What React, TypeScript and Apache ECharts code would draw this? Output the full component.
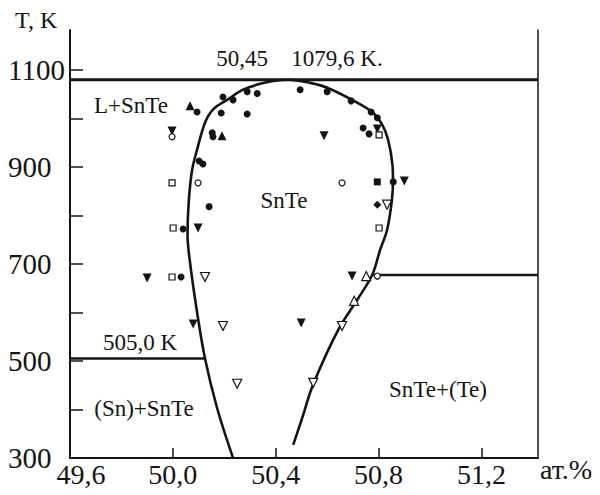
import React, { useEffect, useRef } from 'react';
import * as echarts from 'echarts';

// Axis extents (composition in at.% Te, temperature in K)
const X_MIN = 49.6;
const X_MAX = 51.42;
const T_MIN = 300;
const T_MAX = 1182;

const xTickValues = [50.0, 50.4, 50.8, 51.2];
const xLabelValues = [49.6, 50.0, 50.4, 50.8, 51.2];
const tTickValues = [300, 400, 500, 600, 700, 800, 900, 1000, 1100];
const tLabelValues = [300, 500, 700, 900, 1100];

// Invariant temperatures
const meltingX = 50.45;
const meltingT = 1079.6;
const snEutecticT = 505.0;
const snEutecticX = 50.125;
const teEutecticT = 677;
const teEutecticX = 50.78;

// SnTe homogeneity boundary: Sn-rich side (bottom to top), then Te-rich side (top to bottom)
const boundarySnSide: [number, number][] = [
  [50.234, 300], [50.172, 403], [50.125, 505], [50.094, 601], [50.067, 702],
  [50.057, 760], [50.062, 830], [50.075, 894], [50.094, 935], [50.125, 991],
  [50.156, 1018], [50.211, 1038], [50.273, 1059], [50.339, 1071], [50.39, 1077],
];
const boundaryTeSide: [number, number][] = [
  [50.534, 1073], [50.6, 1063], [50.697, 1038], [50.775, 1013], [50.814, 987],
  [50.837, 956], [50.854, 904], [50.856, 873], [50.852, 832], [50.833, 770],
  [50.806, 729], [50.775, 677], [50.717, 626], [50.643, 564], [50.545, 451],
  [50.507, 389], [50.468, 327],
];

// Experimental points
const filledCircle: [number, number][] = [
  [50.094, 1013], [50.195, 1044], [50.234, 1038], [50.289, 1055], [50.328, 1051],
  [50.188, 1011], [50.289, 1009], [50.153, 970], [50.156, 962], [50.102, 912],
  [50.117, 906], [50.141, 818], [50.04, 772], [50.032, 673], [50.495, 1059],
  [50.6, 1055], [50.693, 1036], [50.771, 1013], [50.795, 1001], [50.74, 980],
  [50.763, 968], [50.857, 869],
];
const filledTriUp: [number, number][] = [[50.067, 1026], [50.191, 964]];
const filledTriDown: [number, number][] = [
  [49.997, 974], [50.098, 774], [49.9, 671], [50.079, 576], [50.588, 964],
  [50.795, 978], [50.9, 871], [50.697, 675], [50.499, 578],
];
const openSquare: [number, number][] = [
  [49.997, 867], [50.001, 774], [49.997, 673], [50.802, 966], [50.802, 774],
];
const openCircle: [number, number][] = [
  [49.997, 962], [50.098, 867], [50.658, 867], [50.795, 675],
];
const openTriDown: [number, number][] = [
  [50.125, 673], [50.195, 572], [50.25, 453], [50.833, 822], [50.658, 572], [50.546, 455],
];
const openTriUp: [number, number][] = [[50.752, 675], [50.705, 624]];
const filledSquare: [number, number][] = [[50.795, 869]];
const filledDiamond: [number, number][] = [[50.795, 822]];

const INK = '#141414';
const SERIF = "'Liberation Serif', 'DejaVu Serif', serif";

const filled = { color: INK, opacity: 1 };
const hollow = { color: '#ffffff', borderColor: INK, borderWidth: 1.2, opacity: 1 };

function markerSeries(data: [number, number][], symbol: string, size: number, style: any, rotate = 0) {
  return {
    type: 'scatter',
    data,
    symbol,
    symbolSize: size,
    symbolRotate: rotate,
    itemStyle: style,
    z: 5,
    silent: true,
  };
}

function text(str: string, x: number, y: number, size: number, align = 'center') {
  return {
    type: 'text',
    x,
    y,
    silent: true,
    style: {
      text: str,
      font: `${size}px ${SERIF}`,
      fill: INK,
      align,
      textAlign: align,
      verticalAlign: 'middle',
      textVerticalAlign: 'middle',
    },
  };
}

export default function App() {
  const ref = useRef<HTMLDivElement>(null);

  useEffect(() => {
    document.body.style.margin = '0';
    const chart = echarts.init(ref.current!, undefined, { renderer: 'svg' });

    const boundary = [...boundarySnSide, [meltingX, meltingT] as [number, number], ...boundaryTeSide];

    chart.setOption({
      animation: false,
      backgroundColor: '#ffffff',
      grid: { left: 70, right: 62, top: 30, bottom: 37 },
      xAxis: {
        type: 'value',
        min: X_MIN,
        max: X_MAX,
        axisLine: { show: true, lineStyle: { color: INK, width: 2 } },
        axisTick: {
          show: true,
          inside: true,
          length: 10,
          customValues: xTickValues,
          lineStyle: { color: INK, width: 1.5 },
        },
        axisLabel: {
          customValues: xLabelValues,
          margin: 2,
          color: INK,
          fontFamily: SERIF,
          fontSize: 28,
          formatter: (v: number) => {
            const s = v.toFixed(1).replace('.', ',');
            return Math.abs(v - X_MIN) < 1e-6 ? `{first|${s}}` : s;
          },
          rich: {
            first: { padding: [0, 0, 0, 22], fontFamily: SERIF, fontSize: 28, color: INK },
          },
        },
        splitLine: { show: false },
      },
      yAxis: [
        {
          type: 'value',
          min: T_MIN,
          max: T_MAX,
          axisLine: { show: true, lineStyle: { color: INK, width: 2 } },
          axisTick: {
            show: true,
            inside: true,
            length: 13,
            customValues: tTickValues,
            lineStyle: { color: INK, width: 1.5 },
          },
          axisLabel: {
            customValues: tLabelValues,
            align: 'left',
            margin: 62,
            color: INK,
            fontFamily: SERIF,
            fontSize: 29,
            formatter: (v: number) => String(Math.round(v)),
          },
          splitLine: { show: false },
        },
        {
          type: 'value',
          position: 'right',
          min: T_MIN,
          max: T_MAX,
          axisLine: { show: true, lineStyle: { color: INK, width: 1.5 } },
          axisTick: { show: false },
          axisLabel: { show: false },
          splitLine: { show: false },
        },
      ],
      series: [
        {
          type: 'line',
          data: boundary,
          smooth: 0.35,
          showSymbol: false,
          lineStyle: { color: INK, width: 2.6 },
          z: 3,
          silent: true,
        },
        {
          type: 'line',
          data: [[X_MIN, meltingT], [X_MAX, meltingT]],
          showSymbol: false,
          lineStyle: { color: INK, width: 3 },
          z: 3,
          silent: true,
        },
        {
          type: 'line',
          data: [[X_MIN, snEutecticT], [snEutecticX, snEutecticT]],
          showSymbol: false,
          lineStyle: { color: INK, width: 2.4 },
          z: 3,
          silent: true,
        },
        {
          type: 'line',
          data: [[teEutecticX, teEutecticT], [X_MAX, teEutecticT]],
          showSymbol: false,
          lineStyle: { color: INK, width: 2.4 },
          z: 3,
          silent: true,
        },
        markerSeries(filledCircle, 'circle', 7, filled),
        markerSeries(filledTriUp, 'triangle', 9, filled),
        markerSeries(filledTriDown, 'triangle', 9, filled, 180),
        markerSeries(openSquare, 'rect', 6, hollow),
        markerSeries(openCircle, 'circle', 6, hollow),
        markerSeries(openTriDown, 'triangle', 9, hollow, 180),
        markerSeries(openTriUp, 'triangle', 9, hollow),
        markerSeries(filledSquare, 'rect', 7, filled),
        markerSeries(filledDiamond, 'diamond', 8, filled),
      ],
      graphic: [
        text('T, K', 15, 20, 24, 'left'),
        text('50,45', 242, 58, 23),
        text('1079,6 K.', 337, 58, 23),
        text('L+SnTe', 131, 105, 23),
        text('SnTe', 284, 200, 23),
        text('505,0 K', 140, 342, 23),
        text('(Sn)+SnTe', 144, 408, 23),
        text('SnTe+(Te)', 438, 389, 23),
        text('ат.%', 540, 469, 28, 'left'),
      ],
    });

    return () => chart.dispose();
  }, []);

  return (
    <div
      ref={ref}
      style={{ position: 'fixed', left: 0, top: 0, width: 600, height: 495 }}
    />
  );
}
